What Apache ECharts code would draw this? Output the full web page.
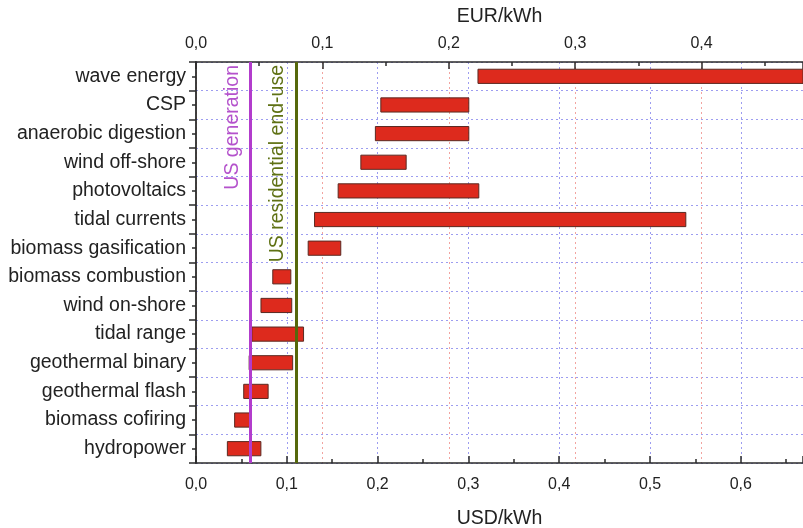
<!DOCTYPE html>
<html>
<head>
<meta charset="utf-8">
<script src="https://cdn.jsdelivr.net/npm/echarts@6/dist/echarts.min.js"></script>
<style>
  html, body { margin: 0; padding: 0; background: #fff; }
  #chart { width: 803px; height: 528px; }
</style>
</head>
<body>
<div id="chart"></div>
<script>
// Levelized cost ranges of renewable technologies, USD/kWh (low and high end), listed top to bottom
const categories = [
  'wave energy', 'CSP', 'anaerobic digestion', 'wind off-shore', 'photovoltaics',
  'tidal currents', 'biomass gasification', 'biomass combustion', 'wind on-shore',
  'tidal range', 'geothermal binary', 'geothermal flash', 'biomass cofiring', 'hydropower'
];
const lowUSD  = [0.310, 0.203, 0.197, 0.181, 0.156, 0.130, 0.123, 0.084, 0.071, 0.061, 0.058, 0.052, 0.042, 0.034];
const highUSD = [0.760, 0.301, 0.301, 0.232, 0.312, 0.540, 0.160, 0.105, 0.106, 0.119, 0.107, 0.080, 0.060, 0.072];

// Reference electricity prices (USD/kWh)
const usGeneration = 0.056;
const usResidentialEndUse = 0.110;

// Axis ranges and currency conversion for the top axis
const usdMax = 0.6685;
const eurPerUsd = 0.7184;
const eurMax = usdMax * eurPerUsd;

// The category axis runs bottom-up, so feed it the lists in reverse
const catsBottomUp = categories.slice().reverse();
const lowBottomUp = lowUSD.slice().reverse();
const spanBottomUp = highUSD.map((h, i) => +(h - lowUSD[i]).toFixed(4)).reverse();

const FONT = "'Liberation Sans', Arial, sans-serif";
const TEXT = '#222';
const AXIS = '#2b2b2b';

function decimalComma(v) {
  const r = Math.round(v * 100);
  if (r % 10 !== 0) return '';
  return (r / 100).toFixed(1).replace('.', ',');
}

const chart = echarts.init(document.getElementById('chart'), null, { renderer: 'canvas' });

chart.setOption({
  backgroundColor: '#ffffff',
  animation: false,
  textStyle: { fontFamily: FONT },
  grid: { left: 196, right: 0, top: 62, bottom: 65, containLabel: false, outerBoundsMode: 'none' },
  xAxis: [
    { // bottom USD axis: labels and minor ticks
      type: 'value', position: 'bottom', min: 0, max: usdMax, interval: 0.05,
      name: 'USD/kWh', nameLocation: 'middle', nameGap: 46,
      nameTextStyle: { fontSize: 19.5, color: TEXT, fontFamily: FONT },
      axisLine: { show: true, lineStyle: { color: AXIS, width: 1.5 } },
      axisTick: { show: true, inside: true, length: 4, lineStyle: { color: AXIS, width: 1.5 } },
      axisLabel: { fontSize: 16, color: TEXT, margin: 14, showMaxLabel: false, formatter: decimalComma, fontFamily: FONT },
      splitLine: { show: false }
    },
    { // bottom USD axis: major ticks and grid
      type: 'value', position: 'bottom', min: 0, max: usdMax, interval: 0.1,
      axisLine: { show: false },
      axisTick: { show: true, inside: true, length: 7, lineStyle: { color: AXIS, width: 1.5 } },
      axisLabel: { show: false },
      splitLine: { show: true, lineStyle: { color: '#9d9df0', width: 1, type: [2, 3] } }
    },
    { // top EUR axis: labels and minor ticks
      type: 'value', position: 'top', min: 0, max: eurMax, interval: 0.05,
      name: 'EUR/kWh', nameLocation: 'middle', nameGap: 35,
      nameTextStyle: { fontSize: 19.5, color: TEXT, fontFamily: FONT },
      axisLine: { show: true, lineStyle: { color: AXIS, width: 1.5 } },
      axisTick: { show: true, inside: true, length: 4, lineStyle: { color: AXIS, width: 1.5 } },
      axisLabel: { fontSize: 16, color: TEXT, margin: 10, showMaxLabel: false, formatter: decimalComma, fontFamily: FONT },
      splitLine: { show: false }
    },
    { // top EUR axis: major ticks and grid
      type: 'value', position: 'top', min: 0, max: eurMax, interval: 0.1,
      axisLine: { show: false },
      axisTick: { show: true, inside: true, length: 7, lineStyle: { color: AXIS, width: 1.5 } },
      axisLabel: { show: false },
      splitLine: { show: true, lineStyle: { color: '#f2a4a0', width: 1, type: [2, 3] } }
    }
  ],
  yAxis: [
    {
      type: 'category', data: catsBottomUp, position: 'left',
      axisLine: { show: true, lineStyle: { color: AXIS, width: 1.8 } },
      axisTick: { show: true, alignWithLabel: true, length: 4, lineStyle: { color: AXIS, width: 1.5 } },
      axisLabel: { fontSize: 19.5, color: TEXT, margin: 10, fontFamily: FONT },
      splitLine: { show: true, lineStyle: { color: '#9d9df0', width: 1, type: [2, 3] } }
    },
    {
      type: 'category', data: catsBottomUp, position: 'left',
      axisLine: { show: false },
      axisTick: { show: true, length: 7, lineStyle: { color: AXIS, width: 1.5 } },
      axisLabel: { show: false },
      splitLine: { show: false }
    }
  ],
  series: [
    {
      name: 'low', type: 'bar', stack: 'range', xAxisIndex: 0, yAxisIndex: 0,
      data: lowBottomUp, barWidth: '53%', silent: true,
      itemStyle: { color: 'rgba(0,0,0,0)' },
      markLine: {
        silent: true, symbol: 'none',
        data: [
          {
            xAxis: usGeneration,
            lineStyle: { color: '#b23ccc', width: 3, type: 'solid' },
            label: { show: true, formatter: 'US generation', position: 'insideEndTop', distance: [3, 8],
                     color: '#b452cc', fontSize: 19.5, fontFamily: FONT }
          },
          {
            xAxis: usResidentialEndUse,
            lineStyle: { color: '#56680c', width: 3, type: 'solid' },
            label: { show: true, formatter: 'US residential end-use', position: 'insideEndTop', distance: [3, 8],
                     color: '#5f7114', fontSize: 19.5, fontFamily: FONT }
          }
        ]
      }
    },
    {
      name: 'range', type: 'bar', stack: 'range', xAxisIndex: 0, yAxisIndex: 0,
      data: spanBottomUp, barWidth: '53%',
      itemStyle: { color: '#dd2a1d', borderColor: '#5a2a22', borderWidth: 1 }
    }
  ]
});
</script>
</body>
</html>
